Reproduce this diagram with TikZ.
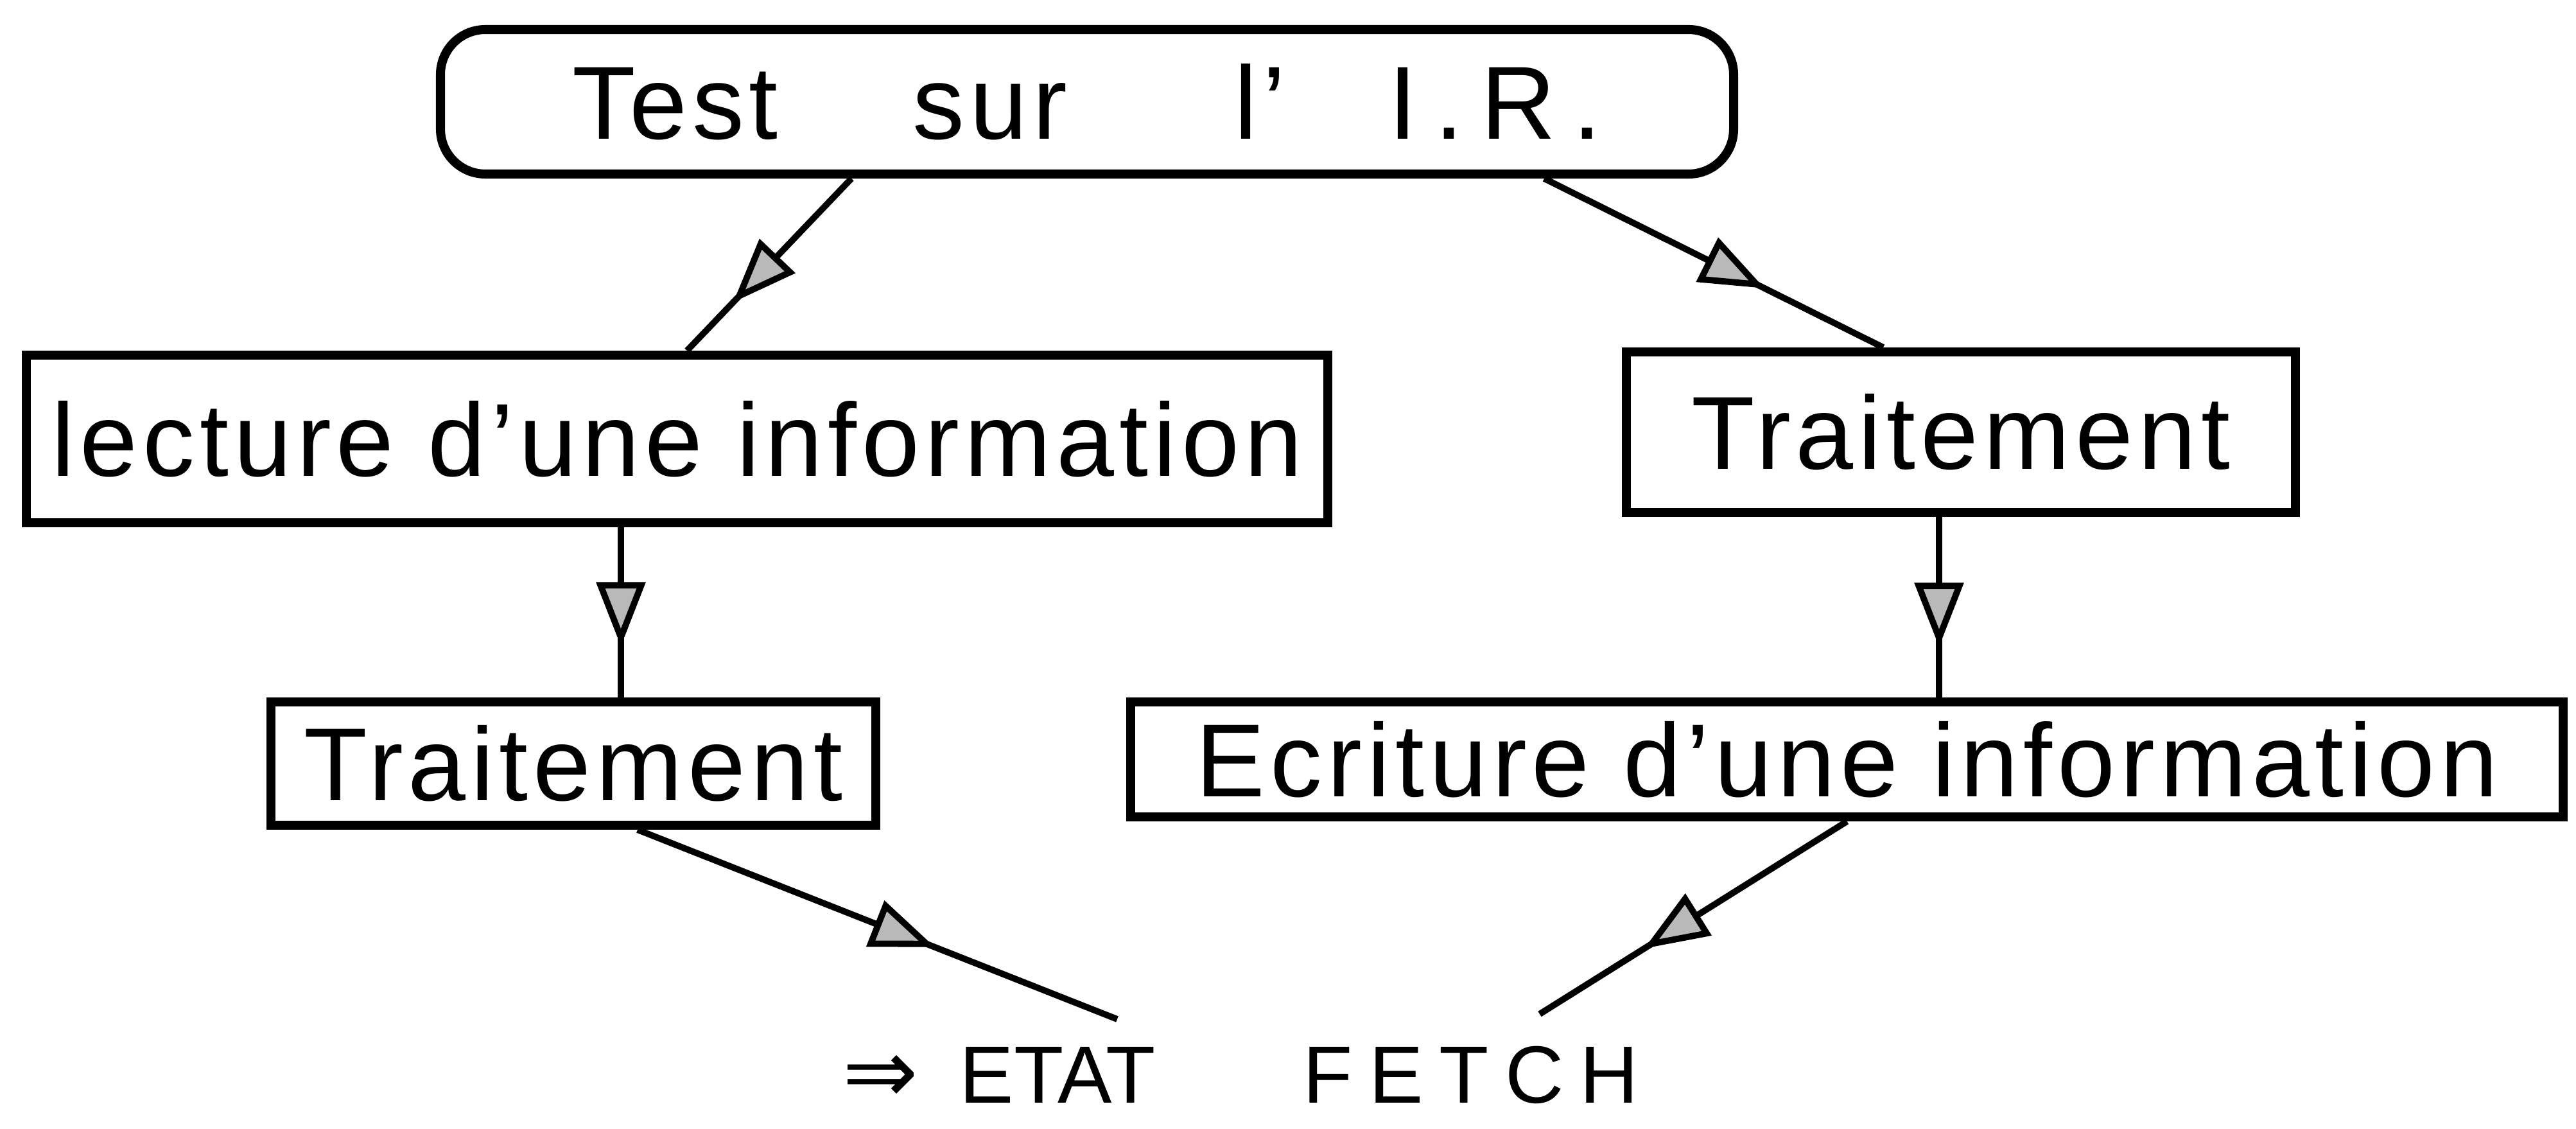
\documentclass[tikz,border=0pt]{standalone}
\usepackage{fontspec}
\setmainfont{Liberation Sans}
\newfontfamily\arrowfont{DejaVu Sans}
\usetikzlibrary{arrows.meta}
\usetikzlibrary{decorations.markings}

\begin{document}
\begin{tikzpicture}[line width=4pt,
    box/.style={draw,rectangle,inner sep=0pt,font=\fontsize{46}{54}\selectfont\addfontfeature{LetterSpace=5}},
    midarrow/.style={line width=2.8pt,postaction={decorate},
      decoration={markings,mark=at position #1 with {\arrow{Triangle[length=10mm,width=7.5mm,fill=gray!55]}}}}]
  \useasboundingbox (0,0) rectangle (40.12,17.57);
  \node[box,rounded corners=7mm,minimum width=20.14cm,minimum height=2.25cm] (test) at (16.93,15.985)
    {Test\hspace{2.1cm}sur\hspace{2.6cm}l'\hspace{1.6cm}I\,.\,R\,.};
  \node[box,minimum width=20.27cm,minimum height=2.61cm] (lecture) at (10.545,10.735) {lecture d'une information};
  \node[box,minimum width=10.42cm,minimum height=2.5cm]  (trait)   at (30.54,10.84)   {Traitement};
  \node[box,minimum width=9.42cm,minimum height=1.92cm]  (traitb)  at (8.93,5.68)     {Traitement};
  \node[box,minimum width=22.31cm,minimum height=1.79cm] (ecrit)   at (28.765,5.745)  {Ecriture d'une information};
  \node[anchor=base west,inner sep=0pt,font=\fontsize{36}{44}\selectfont] (fetch) at (13.05,0.4)
    {{\arrowfont\fontsize{40}{44}\selectfont ⇒}\hspace{0.65cm}ETAT\hspace{2.3cm}{\addfontfeature{LetterSpace=20}FETCH}};
  \coordinate (inl) at (17.40,1.70);
  \coordinate (inr) at (23.98,1.78);
  %
  \draw[midarrow=0.72] ([xshift=-3.67cm]test.south) -- ([xshift=0.155cm]lecture.north);
  \draw[midarrow=0.65] ([xshift=7.12cm]test.south)  -- ([xshift=-1.21cm]trait.north);
  \draw[midarrow=0.7]  ([xshift=-0.875cm]lecture.south) -- ([xshift=0.74cm]traitb.north);
  \draw[midarrow=0.72] ([xshift=-0.34cm]trait.south) -- ([xshift=1.435cm]ecrit.north);
  \draw[midarrow=0.62] ([xshift=1.0cm]traitb.south) -- (inl);
  \draw[midarrow=0.66] (ecrit.south) -- (inr);
\end{tikzpicture}
\end{document}
